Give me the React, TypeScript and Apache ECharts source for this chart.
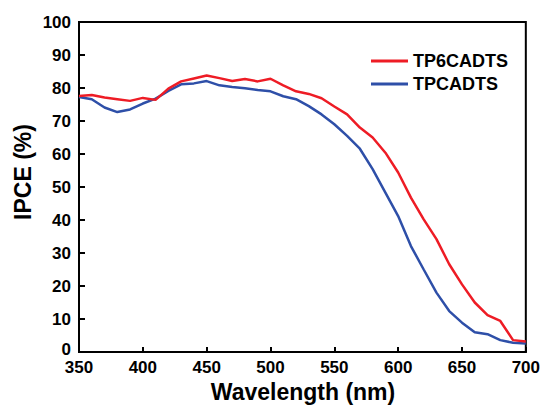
import React, { useEffect, useRef } from "react";
import * as echarts from "echarts";

const wavelengths = [350, 360, 370, 380, 390, 400, 410, 420, 430, 440, 450, 460, 470, 480, 490, 500, 510, 520, 530, 540, 550, 560, 570, 580, 590, 600, 610, 620, 630, 640, 650, 660, 670, 680, 690, 700];
const tp6cadts = [77.6, 77.9, 77.1, 76.6, 76.1, 77.0, 76.4, 79.8, 82.0, 82.9, 83.8, 83.0, 82.1, 82.7, 82.0, 82.8, 80.8, 79.0, 78.2, 76.9, 74.4, 72.0, 68.0, 65.0, 60.4, 54.4, 46.8, 40.2, 34.2, 26.6, 20.5, 15.0, 11.2, 9.4, 3.6, 3.2];
const tpcadts = [77.3, 76.6, 74.1, 72.7, 73.5, 75.3, 76.8, 79.1, 81.1, 81.4, 82.1, 80.8, 80.3, 79.9, 79.4, 79.0, 77.5, 76.6, 74.5, 72.0, 69.0, 65.5, 61.6, 55.4, 48.3, 41.2, 32.1, 25.0, 18.0, 12.4, 8.9, 6.0, 5.4, 3.6, 2.8, 2.6];
const seriesNames = ["TP6CADTS", "TPCADTS"];
const xTitle = "Wavelength (nm)";
const yTitle = "IPCE (%)";

export default function App() {
  const ref = useRef<HTMLDivElement>(null);
  useEffect(() => {
    if (!ref.current) return;
    const chart = echarts.init(ref.current, null, { renderer: "svg" });
    const font = "'Liberation Sans', Arial, sans-serif";
    chart.setOption({
      animation: false,
      backgroundColor: "#fff",
      grid: { left: 79, right: 16, top: 22, bottom: 55, show: true, borderColor: "#000", borderWidth: 2 },
      legend: {
        orient: "vertical",
        left: 366,
        top: 47,
        icon: "rect",
        itemWidth: 37,
        itemHeight: 3,
        itemGap: 5,
        data: seriesNames,
        textStyle: { fontFamily: font, fontWeight: "bold", fontSize: 18, color: "#000" },
      },
      graphic: [
        {
          type: "text",
          x: 303,
          y: 392,
          style: { text: xTitle, fontFamily: font, fontWeight: "bold", fontSize: 23, fill: "#000", align: "center", verticalAlign: "middle" },
        },
        {
          type: "text",
          x: 23,
          y: 172,
          rotation: Math.PI / 2,
          style: { text: yTitle, fontFamily: font, fontWeight: "bold", fontSize: 23, fill: "#000", align: "center", verticalAlign: "middle" },
        },
      ],
      xAxis: {
        type: "value",
        min: 350,
        max: 700,
        interval: 50,
        axisLine: { show: true, lineStyle: { color: "#000", width: 2 } },
        axisTick: { show: true, inside: true, length: 5, lineStyle: { color: "#000", width: 2 } },
        axisLabel: { fontFamily: font, fontWeight: "bold", fontSize: 17, lineHeight: 14, color: "#000", margin: 8 },
        splitLine: { show: false },
      },
      yAxis: {
        type: "value",
        min: 0,
        max: 100,
        interval: 10,
        axisLine: { show: true, lineStyle: { color: "#000", width: 2 } },
        axisTick: { show: true, inside: true, length: 6, lineStyle: { color: "#000", width: 2 } },
        axisLabel: {
          fontFamily: font,
          fontWeight: "bold",
          fontSize: 17,
          lineHeight: 14,
          color: "#000",
          margin: 8,
          formatter: (v: number) => (v === 0 ? "{z|0}" : String(v)),
          rich: { z: { fontFamily: font, fontWeight: "bold", fontSize: 17, lineHeight: 14, color: "#000", padding: [0, 0, 6, 0] } },
        },
        splitLine: { show: false },
      },
      series: [
        {
          name: seriesNames[0],
          type: "line",
          symbol: "none",
          data: wavelengths.map((w, i) => [w, tp6cadts[i]]),
          lineStyle: { color: "#ee1c25", width: 2.5 },
          itemStyle: { color: "#ee1c25" },
          z: 3,
        },
        {
          name: seriesNames[1],
          type: "line",
          symbol: "none",
          data: wavelengths.map((w, i) => [w, tpcadts[i]]),
          lineStyle: { color: "#2e4fa8", width: 2.5 },
          itemStyle: { color: "#2e4fa8" },
          z: 2,
        },
      ],
    });
    return () => chart.dispose();
  }, []);
  return <div ref={ref} style={{ width: 543, height: 407, position: "absolute", left: 0, top: 0 }} />;
}
